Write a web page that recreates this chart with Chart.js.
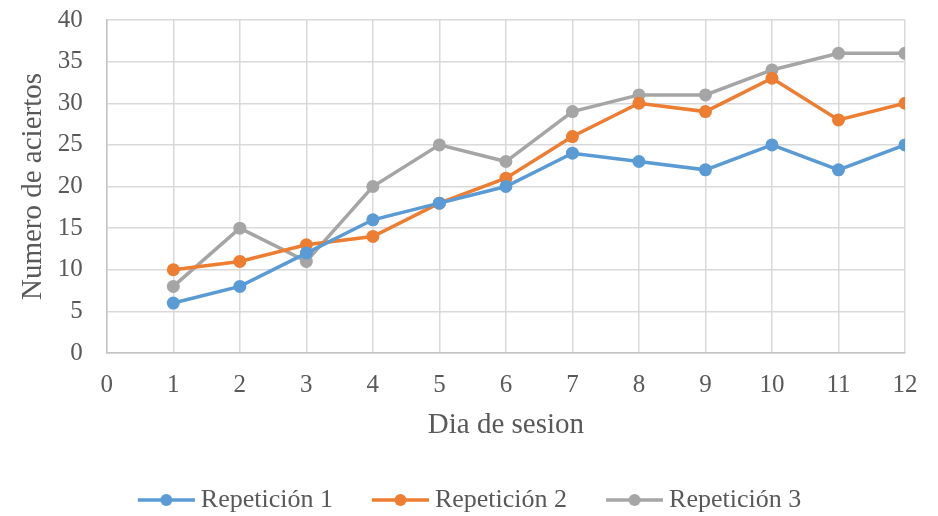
<!DOCTYPE html>
<html>
<head>
<meta charset="utf-8">
<script src="https://cdn.jsdelivr.net/npm/chart.js@4.4.1/dist/chart.umd.min.js"></script>
<style>
  html, body { margin: 0; padding: 0; background: #ffffff; }
  #wrap { width: 938px; height: 516px; }
</style>
</head>
<body>
<div id="wrap"><canvas id="c" width="938" height="516"></canvas></div>
<script>
// Session days and hit counts per repetition
const dias = [1, 2, 3, 4, 5, 6, 7, 8, 9, 10, 11, 12];
const repeticion1 = [6, 8, 12, 16, 18, 20, 24, 23, 22, 25, 22, 25];
const repeticion2 = [10, 11, 13, 14, 18, 21, 26, 30, 29, 33, 28, 30];
const repeticion3 = [8, 15, 11, 20, 25, 23, 29, 31, 31, 34, 36, 36];
const nombres = ['Repetición 1', 'Repetición 2', 'Repetición 3'];
const colores = ['#5B9BD5', '#ED7D31', '#A5A5A5'];

const FONT = '"Liberation Serif", "Times New Roman", serif';
const TEXT = '#595959';
const Y_TICK_GAP = 24;

// Legend glyph: short line with a dot in the middle, drawn in the right
// part of the image so it sits just before the label text
const GLYPH_BOX = 68;
function legendGlyph(color) {
  const c = document.createElement('canvas');
  c.width = 82; c.height = 14;
  const g = c.getContext('2d');
  g.strokeStyle = color; g.lineWidth = 3.5;
  g.beginPath(); g.moveTo(25, 7); g.lineTo(82, 7); g.stroke();
  g.fillStyle = color;
  g.beginPath(); g.arc(53.5, 7, 6, 0, Math.PI * 2); g.fill();
  return c;
}

const series = [repeticion1, repeticion2, repeticion3];
const datasets = series.map((vals, i) => ({
  label: nombres[i],
  data: vals.map((v, k) => ({ x: dias[k], y: v })),
  borderColor: colores[i],
  backgroundColor: colores[i],
  borderWidth: 3.5,
  pointRadius: 6.5,
  pointHoverRadius: 6.5,
  pointBorderWidth: 0,
  pointStyle: 'circle',
  tension: 0,
  legendGlyph: legendGlyph(colores[i])
}));

new Chart(document.getElementById('c'), {
  type: 'line',
  data: { datasets },
  options: {
    responsive: false,
    devicePixelRatio: 1,
    animation: false,
    layout: { padding: { left: 16, right: 33, top: 20, bottom: -7 } },
    plugins: {
      tooltip: { enabled: false },
      legend: {
        position: 'bottom',
        labels: {
          usePointStyle: true,
          pointStyleWidth: GLYPH_BOX,
          padding: 21,
          color: TEXT,
          font: { family: FONT, size: 26 },
          generateLabels(chart) {
            return chart.data.datasets.map((d, i) => ({
              text: d.label,
              fillStyle: d.borderColor,
              strokeStyle: d.borderColor,
              fontColor: TEXT,
              lineWidth: 0,
              pointStyle: d.legendGlyph,
              hidden: false,
              datasetIndex: i
            }));
          }
        }
      }
    },
    scales: {
      x: {
        type: 'linear',
        min: 0, max: 12,
        ticks: { stepSize: 1, color: TEXT, font: { family: FONT, size: 25 }, padding: 17 },
        grid: { color: '#d9d9d9', lineWidth: 1.5, drawTicks: false },
        border: { color: '#c4c4c4', width: 1.5 },
        title: { display: true, text: 'Dia de sesion', color: TEXT, font: { family: FONT, size: 29 }, padding: { top: -9.4, bottom: 23.6 } }
      },
      y: {
        min: 0, max: 40,
        ticks: { stepSize: 5, color: TEXT, font: { family: FONT, size: 25 }, padding: Y_TICK_GAP },
        grid: { color: '#d9d9d9', lineWidth: 1.5, drawTicks: false },
        border: { color: '#c4c4c4', width: 1.5 },
        title: { display: true, text: 'Numero de aciertos', color: TEXT, font: { family: FONT, size: 29 }, padding: { top: 0, bottom: -17 } },
        // the label gap only pushes labels sideways; keep it out of the vertical overhang
        afterFit(scale) {
          scale.paddingTop -= Y_TICK_GAP;
          scale.paddingBottom -= Y_TICK_GAP;
        }
      }
    }
  }
});
</script>
</body>
</html>
